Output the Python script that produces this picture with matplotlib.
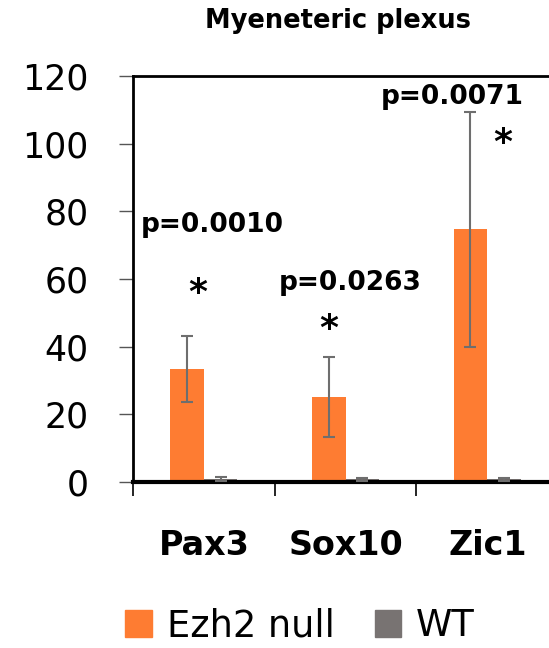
import numpy as np
import matplotlib.pyplot as plt
from matplotlib.patches import Patch

# datos
genes = ["Pax3", "Sox10", "Zic1"]
ezh2_null = [33.4, 25.1, 74.7]
ezh2_err = [9.7, 11.8, 34.7]
wt = [0.8, 0.8, 0.8]
wt_err = [0.6, 0.5, 0.5]
p_labels = ["p=0.0010", "p=0.0263", "p=0.0071"]
p_y = [76.0, 58.8, 113.9]
star_y = [56.0, 45.1, 100.2]

naranja = "#FE7C32"
gris = "#787372"
plt.rcParams["font.family"] = ["DejaVu Sans"]

fig = plt.figure(figsize=(5.49, 6.48), dpi=100)
ax = fig.add_axes([133 / 549, 1 - 482 / 648, 1 - 133 / 549, (482 - 76) / 648])

x = np.arange(len(genes))
w = 0.237
ax.bar(x - w / 2, ezh2_null, w, color=naranja, zorder=2)
ax.bar(x + w / 2, wt, w, color=gris, zorder=2)
ax.errorbar(x - w / 2, ezh2_null, yerr=ezh2_err, fmt="none", ecolor="#6e6e6e",
            elinewidth=1.5, capsize=4.3, capthick=1.5, zorder=3)
ax.errorbar(x + w / 2, wt, yerr=wt_err, fmt="none", ecolor="#6e6e6e",
            elinewidth=1.5, capsize=4.3, capthick=1.5, zorder=3)

# p-valores y asteriscos
p_dx = [0.06, 0.03, -0.25]
s_dx = [-0.04, -0.12, 0.11]
for i in range(len(genes)):
    ax.text(x[i] + p_dx[i], p_y[i], p_labels[i], ha="center", va="center",
            fontsize=19, fontweight="bold")
    ax.text(x[i] + s_dx[i], star_y[i], "*", ha="center", va="center",
            fontsize=26, fontweight="bold")

ax.set_xlim(-0.5, -0.5 + 416 / 141.7)
ax.set_ylim(0, 120)
ax.set_yticks(np.arange(0, 121, 20))
ax.tick_params(axis="y", direction="out", length=10, width=1, color="#555555",
               pad=22, labelsize=25)
ax.set_xticks([-0.5, 0.5, 1.5])
ax.set_xticklabels([])
ax.tick_params(axis="x", which="major", direction="out", length=10, width=1.2)
ax.set_xticks(x, minor=True)
ax.set_xticklabels(genes, minor=True, fontsize=24, fontweight="bold")
ax.tick_params(axis="x", which="minor", length=0, pad=34)

ax.spines["right"].set_visible(False)
ax.spines["left"].set_linewidth(2)
ax.spines["top"].set_linewidth(2)
ax.spines["bottom"].set_linewidth(3)

fig.text(338 / 549, 1 - 28 / 648, "Myeneteric plexus", ha="center", va="baseline",
         fontsize=18.5, fontweight="bold")

handles = [Patch(color=naranja, label="Ezh2 null"), Patch(color=gris, label="WT")]
fig.legend(handles=handles, loc="center", bbox_to_anchor=(300 / 549, 1 - 626 / 648),
           ncol=2, frameon=False, fontsize=26.5, handlelength=0.73, handleheight=0.73,
           handletextpad=0.4, columnspacing=1.09)

fig.savefig("out.png", dpi=100)
